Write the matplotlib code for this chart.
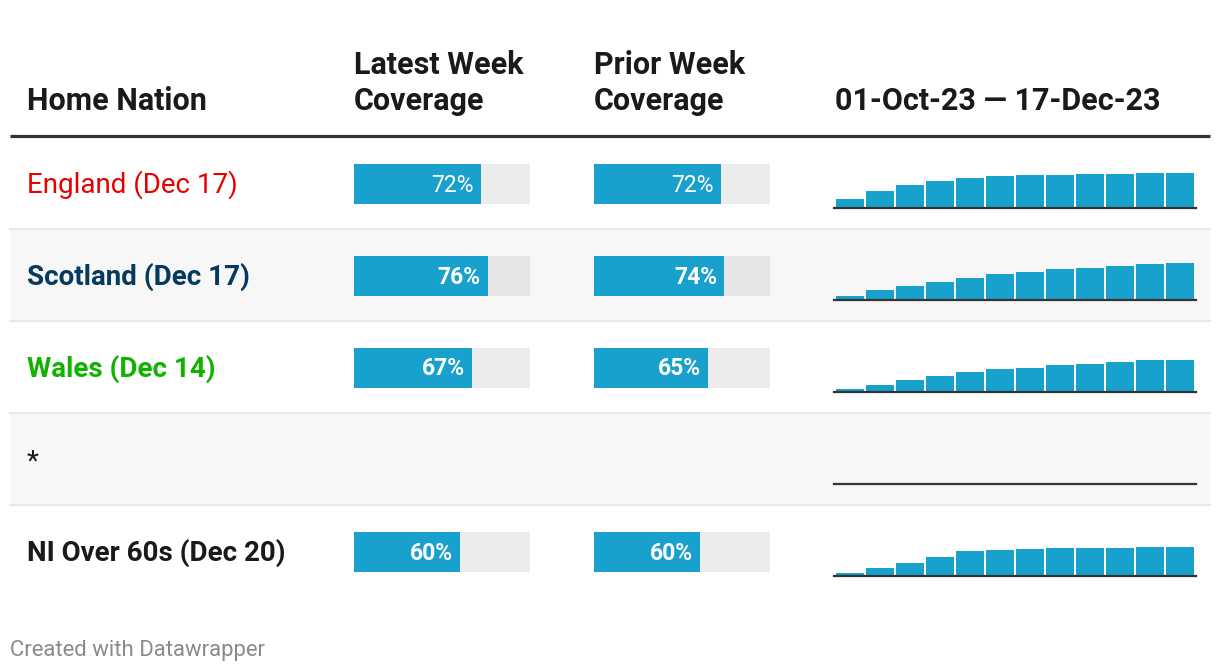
import matplotlib
matplotlib.use("Agg")
from matplotlib import pyplot as plt


# table data
nations = ["England (Dec 17)", "Scotland (Dec 17)", "Wales (Dec 14)", "*", "NI Over 60s (Dec 20)"]
latest_week = [72, 76, 67, None, 60]
prior_week = [72, 74, 65, None, 60]

# weekly coverage, 01-Oct-23 to 17-Dec-23
weekly_england = [19, 35, 47, 56, 62, 66, 68, 68, 70, 70, 72, 72]
weekly_scotland = [8, 20, 28, 36, 45, 53, 57, 63, 67, 71, 74, 76]
weekly_wales = [6, 14, 25, 33, 41, 48, 50, 56, 58, 62, 65, 67]
weekly_ni = [6, 16, 26, 39, 51, 53, 55, 58, 58, 58, 60, 60]
weekly = [weekly_england, weekly_scotland, weekly_wales, None, weekly_ni]

headers = ["Home Nation", "Latest Week\nCoverage", "Prior Week\nCoverage", "01-Oct-23 \u2014 17-Dec-23"]

# styling
W, H = 1220, 672
BLUE = "#18a1cd"
label_colors = ["#e60000", "#053a5e", "#11b300", "#1a1a1a", "#1a1a1a"]
label_weights = ["normal", "bold", "bold", "normal", "bold"]
value_weights = ["normal", "bold", "bold", "bold", "bold"]

plt.rcParams["font.family"] = ["Roboto", "DejaVu Sans"]

fig = plt.figure(figsize=(W / 100, H / 100), dpi=100)
fig.patch.set_facecolor("white")


def px_axes(x0, y0, w, h):
    ax = fig.add_axes([x0 / W, 1 - (y0 + h) / H, w / W, h / H])
    ax.set_axis_off()
    return ax


# background axes in pixel space
bg = px_axes(0, 0, W, H)
bg.set_xlim(0, W)
bg.set_ylim(H, 0)

row_top = 137
row_h = 92
for i in range(len(nations)):
    top = row_top + i * row_h
    if i % 2 == 1:
        bg.fill_between([10, 1210], top, top + row_h, color="#f7f7f7", lw=0)
    if i > 0:
        bg.plot([10, 1210], [top, top], color="#e8e8e8", lw=1.4)
bg.plot([10, 1210], [136, 136], color="#333333", lw=2.3, solid_capstyle="butt")

# header
hx = [27, 354, 594, 835]
for x, txt in zip(hx, headers):
    lines = txt.split("\n")
    for j, line in enumerate(reversed(lines)):
        bg.text(x, 110 - j * 36, line, fontsize=22, fontweight="bold",
                color="#1a1a1a", va="baseline", ha="left")

bg.text(10, 656, "Created with Datawrapper", fontsize=15.9, color="#8a8a8a",
        va="baseline", ha="left")

for i, name in enumerate(nations):
    top = row_top + i * row_h
    mid = top + row_h / 2
    bg.text(27, mid + 10, name, fontsize=20, color=label_colors[i],
            fontweight=label_weights[i], va="baseline", ha="left")

    track = "#e6e6e6" if i % 2 == 1 else "#ececec"
    for x0, vals in ((354, latest_week), (594, prior_week)):
        v = vals[i]
        if v is None:
            continue
        ax = px_axes(x0, mid - 19, 176, 40)
        ax.set_xlim(0, 100)
        ax.set_ylim(-0.5, 0.5)
        ax.barh([0], [100], height=1, color=track, lw=0)
        ax.barh([0], [v], height=1, color=BLUE, lw=0)
        ax.annotate(f"{v}%", (v, 0), xytext=(-7, -1), textcoords="offset pixels",
                    ha="right", va="center", color="white", fontsize=16.5,
                    fontweight=value_weights[i])

    # sparkline
    base = top + 70.7
    sp = px_axes(835, base - 38.4, 360, 38.4)
    sp.set_xlim(-0.5, 11.5)
    sp.set_ylim(0, 80)
    if weekly[i] is not None:
        sp.bar(range(len(weekly[i])), weekly[i], width=0.93, color=BLUE, lw=0)
    sp.axhline(0, xmin=-0.003, xmax=1.003, color="#333333", lw=1.6, clip_on=False)

fig.savefig("out.png", dpi=100, facecolor="white")
